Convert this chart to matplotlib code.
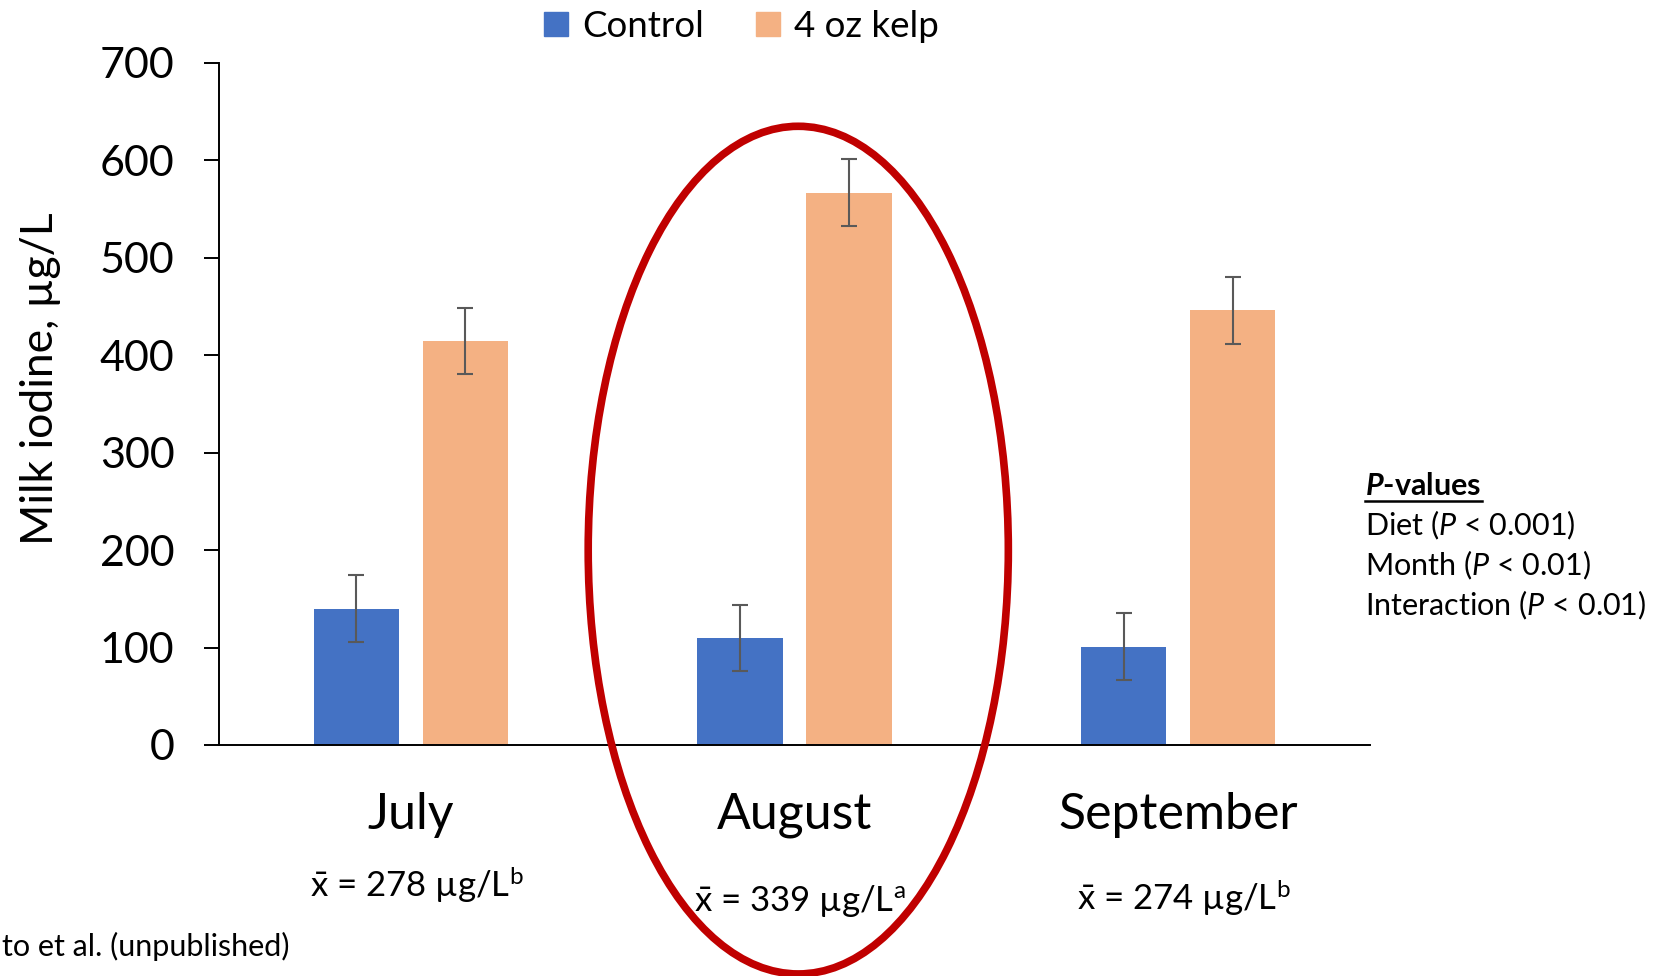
import matplotlib
matplotlib.use("Agg")
import matplotlib.pyplot as plt
from matplotlib.patches import Ellipse, Patch
import numpy as np

plt.rcParams['font.family'] = ['Lato', 'DejaVu Sans']
plt.rcParams['mathtext.fontset'] = 'custom'
plt.rcParams['mathtext.rm'] = 'Lato'
plt.rcParams['mathtext.it'] = 'Lato:italic'
plt.rcParams['mathtext.bf'] = 'Lato:bold'
plt.rcParams['mathtext.bfit'] = 'Lato:italic:bold'

months = ["July", "August", "September"]
control = [140, 110, 101]
kelp = [415, 567, 446]
control_err = [34, 34, 34]
kelp_err = [34, 34, 34]
means = [278, 339, 274]
letters = ["b", "a", "b"]

blue = "#4472C4"
orange = "#F4B183"
red = "#C00000"

fig = plt.figure(figsize=(16.66, 9.76), dpi=100)
ax = fig.add_axes([0.1314, 0.2367, 0.6909, 0.6988])

x = np.arange(len(months))
w = 0.222
ax.bar(x - 0.142, control, w, color=blue, yerr=control_err,
       error_kw=dict(ecolor="#595959", elinewidth=1.5, capsize=6, capthick=1.5))
ax.bar(x + 0.142, kelp, w, color=orange, yerr=kelp_err,
       error_kw=dict(ecolor="#595959", elinewidth=1.5, capsize=6, capthick=1.5))

ax.set_xlim(-0.5, 2.5)
ax.set_ylim(0, 700)
ax.set_yticks(range(0, 701, 100))
ax.set_xticks([])
ax.tick_params(axis='y', labelsize=31, length=11, width=1.4, pad=21)
ax.spines['top'].set_visible(False)
ax.spines['right'].set_visible(False)
ax.spines['left'].set_linewidth(1.4)
ax.spines['bottom'].set_linewidth(1.4)
ax.set_ylabel("Milk iodine, µg/L", fontsize=32)
ax.yaxis.set_label_coords(-0.137, 0.537)

mean_y = [-0.205, -0.229, -0.224]
for i, m in enumerate(months):
    ax.text(i, -0.103, m, transform=ax.get_xaxis_transform(), ha='center',
            va='center', fontsize=36)
    ax.text(i + 0.015, mean_y[i], "x\u0304 = %d µg/L$^{\\mathrm{%s}}$" % (means[i], letters[i]),
            transform=ax.get_xaxis_transform(), ha='center', va='center', fontsize=25)

# red ellipse around August
ax.add_patch(Ellipse((1.01, 200), 1.095, 870, fill=False, edgecolor=red,
                     linewidth=5.5, clip_on=False, zorder=5))

handles = [Patch(color=blue), Patch(color=orange)]
fig.legend(handles, ["Control", "4 oz kelp"], loc='center', bbox_to_anchor=(0.445, 0.973),
           ncol=2, frameon=False, fontsize=26.5, handlelength=0.65, handleheight=0.65,
           handletextpad=0.4, columnspacing=1.4)

# P-values block
t = fig.text(0.8195, 0.502, "$\\mathbfit{P}$-values", fontsize=22,
             fontweight='bold', va='center', ha='left')
fig.text(0.8195, 0.462, "Diet ($\\mathit{P}$ < 0.001)", fontsize=22, va='center')
fig.text(0.8195, 0.421, "Month ($\\mathit{P}$ < 0.01)", fontsize=22, va='center')
fig.text(0.8195, 0.380, "Interaction ($\\mathit{P}$ < 0.01)", fontsize=22, va='center')
fig.canvas.draw()
bb = t.get_window_extent().transformed(fig.transFigure.inverted())
fig.add_artist(plt.Line2D([bb.x0, bb.x1], [bb.y0 - 0.001, bb.y0 - 0.001],
                          transform=fig.transFigure, color='black', linewidth=1.8))

fig.text(0.174, 0.030, "to et al. (unpublished)", fontsize=22, ha='right', va='center')

fig.savefig("out.png", dpi=100)
